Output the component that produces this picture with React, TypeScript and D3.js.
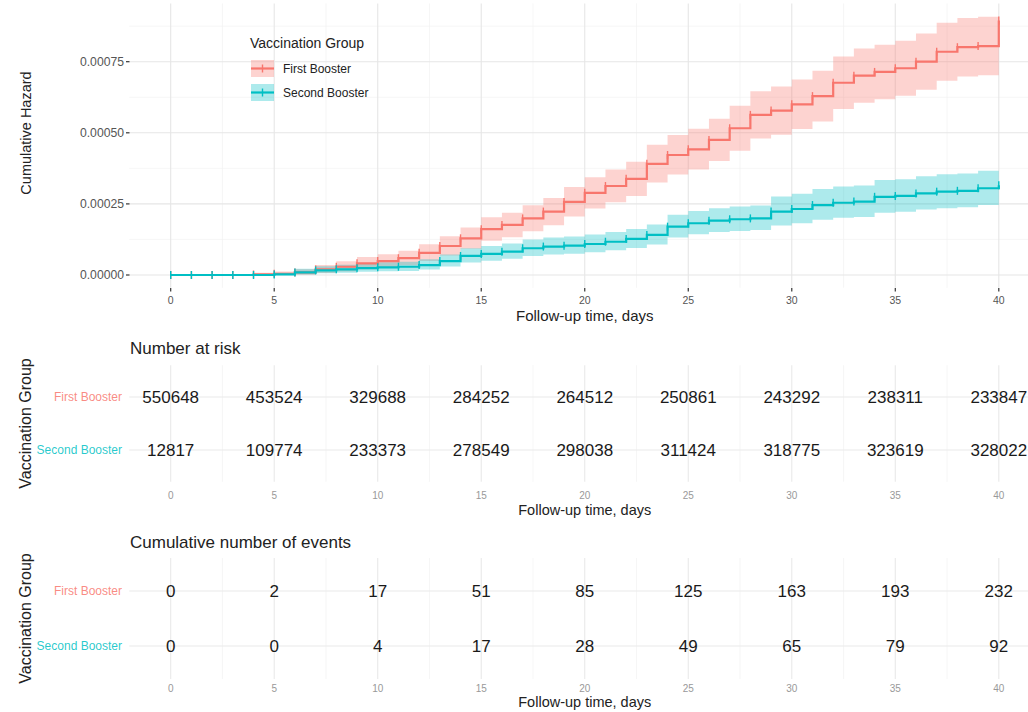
import React, { useEffect, useRef } from 'react';
import * as d3 from 'd3';

const groups = ['First Booster', 'Second Booster'];
const groupColors = ['#F8766D', '#00BFC4'];

// cumulative hazard in units of 1e-5, value holds from that day on
const days = [0, 1, 2, 3, 4, 5, 6, 7, 8, 9, 10, 11, 12, 13, 14, 15, 16, 17, 18, 19, 20,
  21, 22, 23, 24, 25, 26, 27, 28, 29, 30, 31, 32, 33, 34, 35, 36, 37, 38, 39, 40];

const firstHazard = [0, 0, 0, 0, 0.2, 0.4, 0.9, 2.0, 2.9, 4.1, 4.9, 5.9, 7.8, 10.2, 12.9, 16.1, 17.6, 19.9, 22.3, 25.7,
  28.9, 31.3, 33.8, 39.1, 42.2, 44.2, 47.5, 51.6, 56.3, 57.8, 60.0, 62.9, 67.6, 70.1, 71.4, 72.7, 75.0, 78.5, 80.1, 80.5, 89.5];
const firstLower = [0, 0, 0, 0, 0, 0, 0.1, 0.7, 1.2, 2.0, 2.6, 3.4, 4.9, 6.9, 9.2, 12.0, 13.3, 15.4, 17.5, 20.6,
  23.4, 25.6, 27.8, 32.5, 35.3, 37.1, 40.1, 43.7, 48.0, 49.3, 51.3, 54.0, 58.4, 60.6, 61.8, 63.0, 65.1, 68.3, 69.8, 70.2, 70.2];
const firstUpper = [0, 0, 0, 0, 0.8, 1.2, 2.0, 3.5, 4.8, 6.3, 7.3, 8.5, 10.8, 13.6, 16.7, 20.3, 21.9, 24.5, 27.1, 30.9,
  34.4, 37.1, 39.8, 45.8, 49.2, 51.4, 54.9, 59.5, 64.6, 66.3, 68.7, 71.8, 76.8, 79.6, 81.0, 82.4, 84.9, 88.7, 90.4, 90.8, 90.8];

const secondHazard = [0, 0, 0, 0, 0, 0.2, 0.9, 1.6, 2.0, 2.4, 2.7, 2.9, 3.5, 4.9, 6.7, 7.4, 8.2, 9.4, 10.0, 10.3,
  10.9, 11.7, 12.7, 14.1, 17.0, 18.2, 19.1, 19.6, 19.9, 22.3, 23.2, 24.6, 25.4, 25.8, 27.5, 27.8, 28.7, 29.3, 29.6, 30.5, 31.6];
const secondLower = [0, 0, 0, 0, 0, 0, 0.2, 0.6, 0.8, 1.1, 1.3, 1.4, 1.9, 3.0, 4.4, 5.0, 5.7, 6.7, 7.2, 7.5,
  8.0, 8.7, 9.5, 10.7, 13.2, 14.3, 15.1, 15.5, 15.8, 17.4, 18.2, 19.4, 20.1, 20.4, 21.9, 22.2, 23.0, 23.5, 23.8, 24.6, 25.6];
const secondUpper = [0, 0, 0, 0, 0, 0.8, 2.2, 3.1, 3.6, 4.1, 4.5, 4.7, 5.5, 7.2, 9.4, 10.2, 11.1, 12.5, 13.2, 13.5,
  14.2, 15.1, 16.2, 17.8, 21.2, 22.5, 23.5, 24.1, 24.4, 27.6, 28.6, 30.2, 31.1, 31.5, 33.4, 33.7, 34.7, 35.4, 35.7, 36.7, 37.9];

const hazardTicks = [0, 25, 50, 75];
const hazardMinor = [12.5, 37.5, 62.5, 87.5];
const dayTicks = [0, 5, 10, 15, 20, 25, 30, 35, 40];
const dayMinor = [2.5, 7.5, 12.5, 17.5, 22.5, 27.5, 32.5, 37.5];

const riskFirst = [550648, 453524, 329688, 284252, 264512, 250861, 243292, 238311, 233847];
const riskSecond = [12817, 109774, 233373, 278549, 298038, 311424, 318775, 323619, 328022];
const eventsFirst = [0, 2, 17, 51, 85, 125, 163, 193, 232];
const eventsSecond = [0, 0, 4, 17, 28, 49, 65, 79, 92];

const FONT = 'Liberation Sans, Arial, Helvetica, sans-serif';

const Chart: React.FC = () => {
  const ref = useRef<SVGSVGElement | null>(null);

  useEffect(() => {
    if (!ref.current) return;
    const svg = d3.select(ref.current);
    svg.selectAll('*').remove();
    svg.attr('font-family', FONT);

    const x = d3.scaleLinear().domain([0, 40]).range([170.7, 998.8]);
    const y = d3.scaleLinear().domain([0, 75]).range([275, 61.7]);
    const left = x(-2), right = x(42);
    const top = y(95.5), bottom = y(-4.5);

    // main panel grid
    const grid = svg.append('g');
    grid.selectAll('.ym').data(hazardMinor).join('line')
      .attr('x1', left).attr('x2', right).attr('y1', d => y(d)).attr('y2', d => y(d))
      .attr('stroke', '#F2F2F2').attr('stroke-width', 0.7);
    grid.selectAll('.xm').data(dayMinor).join('line')
      .attr('x1', d => x(d)).attr('x2', d => x(d)).attr('y1', top).attr('y2', bottom)
      .attr('stroke', '#F2F2F2').attr('stroke-width', 0.7);
    grid.selectAll('.yM').data(hazardTicks).join('line')
      .attr('x1', left).attr('x2', right).attr('y1', d => y(d)).attr('y2', d => y(d))
      .attr('stroke', '#E6E6E6').attr('stroke-width', 1.1);
    grid.selectAll('.xM').data(dayTicks).join('line')
      .attr('x1', d => x(d)).attr('x2', d => x(d)).attr('y1', top).attr('y2', bottom)
      .attr('stroke', '#E6E6E6').attr('stroke-width', 1.1);

    const series = [
      { hz: firstHazard, lo: firstLower, hi: firstUpper, color: groupColors[0] },
      { hz: secondHazard, lo: secondLower, hi: secondUpper, color: groupColors[1] },
    ];

    const area = d3.area<number>()
      .curve(d3.curveStepAfter)
      .x(d => x(d));
    const line = d3.line<number>().curve(d3.curveStepAfter).x(d => x(d));

    series.forEach(s => {
      svg.append('path')
        .attr('d', area.y0((d, i) => y(s.lo[i])).y1((d, i) => y(s.hi[i]))(days))
        .attr('fill', s.color).attr('fill-opacity', 0.32);
    });
    series.forEach(s => {
      svg.append('path')
        .attr('d', line.y((d, i) => y(s.hz[i]))(days))
        .attr('fill', 'none').attr('stroke', s.color).attr('stroke-width', 2.2);
      svg.append('g').selectAll('line').data(days).join('line')
        .attr('x1', d => x(d)).attr('x2', d => x(d))
        .attr('y1', (d, i) => y(s.hz[i]) - 4).attr('y2', (d, i) => y(s.hz[i]) + 4)
        .attr('stroke', s.color).attr('stroke-width', 1.4);
    });

    // y axis
    const ya = svg.append('g');
    ya.selectAll('text').data(hazardTicks).join('text')
      .attr('x', 124).attr('y', d => y(d)).attr('dy', '0.35em')
      .attr('text-anchor', 'end').attr('font-size', 12.2).attr('fill', '#555')
      .text(d => (d / 1e5).toFixed(5));
    ya.selectAll('line').data(hazardTicks).join('line')
      .attr('x1', 126).attr('x2', 129.5).attr('y1', d => y(d)).attr('y2', d => y(d))
      .attr('stroke', '#333').attr('stroke-width', 1.2);
    svg.append('text').attr('transform', 'translate(26,133) rotate(-90)')
      .attr('text-anchor', 'middle').attr('dy', '0.35em').attr('font-size', 14.5).attr('fill', '#222')
      .text('Cumulative Hazard');

    // x axis
    const xa = svg.append('g');
    xa.selectAll('line').data(dayTicks).join('line')
      .attr('x1', d => x(d)).attr('x2', d => x(d)).attr('y1', 288).attr('y2', 291.5)
      .attr('stroke', '#333').attr('stroke-width', 1.2);
    xa.selectAll('text').data(dayTicks).join('text')
      .attr('x', d => x(d)).attr('y', 300).attr('dy', '0.35em')
      .attr('text-anchor', 'middle').attr('font-size', 10.5).attr('fill', '#555')
      .text(d => d);
    const mid = (left + right) / 2;
    svg.append('text').attr('x', mid).attr('y', 316).attr('dy', '0.35em')
      .attr('text-anchor', 'middle').attr('font-size', 15).attr('fill', '#222')
      .text('Follow-up time, days');

    // legend
    const lg = svg.append('g');
    lg.append('text').attr('x', 250).attr('y', 43).attr('dy', '0.35em')
      .attr('font-size', 14).attr('fill', '#222').text('Vaccination Group');
    groups.forEach((g, i) => {
      const ky = 60 + i * 24;
      lg.append('rect').attr('x', 251).attr('y', ky).attr('width', 23).attr('height', 17)
        .attr('fill', groupColors[i]).attr('fill-opacity', 0.32);
      lg.append('line').attr('x1', 251).attr('x2', 274).attr('y1', ky + 8.5).attr('y2', ky + 8.5)
        .attr('stroke', groupColors[i]).attr('stroke-width', 2.2);
      lg.append('line').attr('x1', 262.5).attr('x2', 262.5).attr('y1', ky + 4.5).attr('y2', ky + 12.5)
        .attr('stroke', groupColors[i]).attr('stroke-width', 1.4);
      lg.append('text').attr('x', 283).attr('y', ky + 8.5).attr('dy', '0.35em')
        .attr('font-size', 12).attr('fill', '#222').text(g);
    });

    // tables
    const tables = [
      { title: 'Number at risk', titleY: 348, rows: [397, 450], tickY: 495, labY: 510, vals: [riskFirst, riskSecond] },
      { title: 'Cumulative number of events', titleY: 542, rows: [591, 646], tickY: 688, labY: 702, vals: [eventsFirst, eventsSecond] },
    ];
    tables.forEach(t => {
      const g = svg.append('g');
      const ry = d3.scalePoint<string>().domain(groups).range(t.rows);
      const step = t.rows[1] - t.rows[0];
      const pTop = t.rows[0] - 0.6 * step, pBot = t.rows[1] + 0.6 * step;
      g.selectAll('.vm').data(dayMinor).join('line')
        .attr('x1', d => x(d)).attr('x2', d => x(d)).attr('y1', pTop).attr('y2', pBot)
        .attr('stroke', '#F2F2F2').attr('stroke-width', 0.7);
      g.selectAll('.vM').data(dayTicks).join('line')
        .attr('x1', d => x(d)).attr('x2', d => x(d)).attr('y1', pTop).attr('y2', pBot)
        .attr('stroke', '#E9E9E9').attr('stroke-width', 1.1);
      g.selectAll('.h').data(groups).join('line')
        .attr('x1', left).attr('x2', right).attr('y1', d => ry(d)!).attr('y2', d => ry(d)!)
        .attr('stroke', '#E9E9E9').attr('stroke-width', 1.1);
      g.append('text').attr('x', 130).attr('y', t.titleY).attr('dy', '0.35em')
        .attr('font-size', 17).attr('fill', '#222').text(t.title);
      groups.forEach((gr, gi) => {
        g.append('text').attr('x', 122).attr('y', ry(gr)!).attr('dy', '0.35em')
          .attr('text-anchor', 'end').attr('font-size', 12).attr('fill', groupColors[gi])
          .attr('fill-opacity', 0.85).text(gr);
        g.append('g').selectAll('text').data(t.vals[gi]).join('text')
          .attr('x', (d, i) => x(dayTicks[i])).attr('y', ry(gr)!).attr('dy', '0.35em')
          .attr('text-anchor', 'middle').attr('font-size', 17).attr('fill', '#1a1a1a')
          .text(d => d);
      });
      g.append('g').selectAll('text').data(dayTicks).join('text')
        .attr('x', d => x(d)).attr('y', t.tickY).attr('dy', '0.35em')
        .attr('text-anchor', 'middle').attr('font-size', 10).attr('fill', '#999')
        .text(d => d);
      g.append('text').attr('x', mid).attr('y', t.labY).attr('dy', '0.35em')
        .attr('text-anchor', 'middle').attr('font-size', 14.5).attr('fill', '#222')
        .text('Follow-up time, days');
      g.append('text').attr('transform', `translate(25,${(t.rows[0] + t.rows[1]) / 2}) rotate(-90)`)
        .attr('text-anchor', 'middle').attr('dy', '0.35em').attr('font-size', 16).attr('fill', '#222')
        .text('Vaccination Group');
    });
  }, []);

  return <svg ref={ref} width={1028} height={712} style={{ display: 'block', background: '#fff' }} />;
};

export default function App() {
  return (
    <div style={{ position: 'absolute', left: 0, top: 0 }}>
      <Chart />
    </div>
  );
}
